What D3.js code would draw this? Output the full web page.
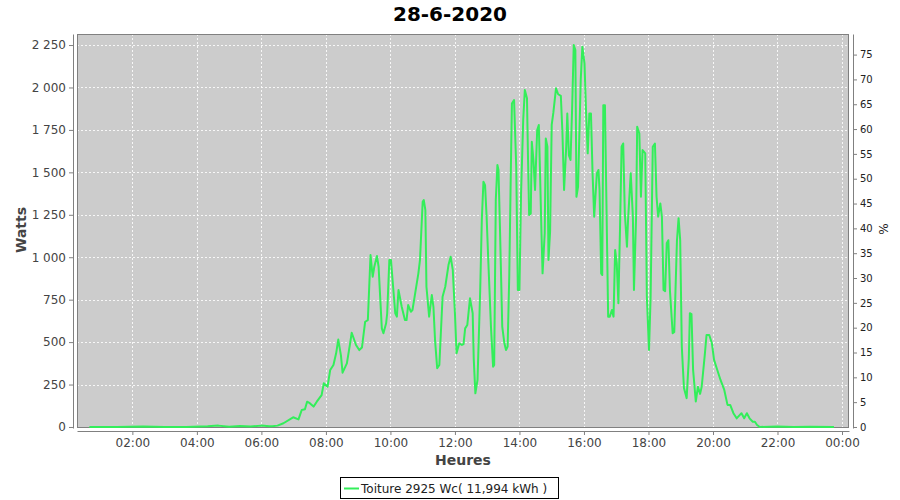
<!DOCTYPE html>
<html><head><meta charset="utf-8">
<script src="https://cdn.jsdelivr.net/npm/d3@7"></script>
<style>body{margin:0;background:#fff}svg{display:block}</style>
</head><body>
<svg id="c" width="900" height="500"></svg>
<script>
const chartTitle = "28-6-2020";
const seriesName = "Toiture 2925 Wc( 11,994 kWh )";
const yLabel = "Watts";
const xLabel = "Heures";
const y2Label = "%";
const peakPower = 2925;
const dayDate = [2020, 5, 28];
const xDomainTimes = ["00:17", "24:13"];
const wattDomain = [-6, 2315];
const wattTicks = [0, 250, 500, 750, 1000, 1250, 1500, 1750, 2000, 2250];
const pctTicks = [0, 5, 10, 15, 20, 25, 30, 35, 40, 45, 50, 55, 60, 65, 70, 75];
const hourTicks = ["02:00","04:00","06:00","08:00","10:00","12:00","14:00","16:00","18:00","20:00","22:00","24:00"];

const times = ["00:40","01:30","02:20","03:00","03:40","04:20","04:40","05:00","05:20","05:40","06:00","06:15","06:20","06:30",
"06:41","06:59","07:09","07:15","07:21","07:25","07:30","07:37","07:43","07:52","07:56","08:03","08:08","08:14","08:19","08:23",
"08:28","08:31","08:39","08:45","08:48","08:56","09:02","09:07","09:13","09:18","09:23","09:27","09:30","09:35","09:38","09:44",
"09:47","09:52","09:54","09:58","10:01","10:05","10:09","10:12","10:15","10:21","10:27","10:30","10:33","10:38","10:41","10:46",
"10:52","10:55","11:00","11:02","11:05","11:07","11:12","11:17","11:20","11:23","11:27","11:31","11:37","11:42","11:48","11:52",
"11:56","12:00","12:03","12:08","12:13","12:16","12:19","12:23","12:28","12:33","12:35","12:38","12:42","12:47","12:50","12:53",
"12:56","12:59","13:02","13:07","13:11","13:13","13:16","13:19","13:21","13:24","13:28","13:32","13:35","13:38","13:41","13:44",
"13:46","13:50","13:54","13:57","14:00","14:03","14:07","14:10","14:14","14:16","14:18","14:21","14:23","14:26","14:29","14:33",
"14:36","14:38","14:41","14:43","14:47","14:49","14:52","14:54","14:57","15:00","15:03","15:08","15:12","15:17","15:20","15:23",
"15:27","15:29","15:32","15:35","15:38","15:41","15:44","15:46","15:49","15:54","15:57","16:01","16:04","16:07","16:10","16:13",
"16:16","16:19","16:24","16:27","16:29","16:32","16:34","16:36","16:39","16:42","16:45","16:48","16:52","16:55","16:58","17:01",
"17:04","17:07","17:10","17:13","17:16","17:20","17:22","17:27","17:31","17:33","17:37","17:39","17:43","17:46","17:49","17:54",
"17:57","18:01","18:04","18:08","18:12","18:15","18:18","18:22","18:25","18:28","18:31","18:34","18:37","18:40","18:45","18:48",
"18:53","18:56","18:59","19:02","19:06","19:11","19:15","19:17","19:20","19:23","19:28","19:32","19:36","19:39","19:45","19:48",
"19:53","19:58","20:02","20:08","20:14","20:21","20:27","20:32","20:38","20:44","20:50","20:53","20:58","21:03","21:08","21:14",
"21:18","21:22","21:27","22:00","22:30","23:00","23:45"];

const watts = [0,0,3,0,0,4,8,2,6,3,8,5,5,8,
22,57,45,100,104,149,140,120,149,188,257,237,336,365,434,515,
420,320,375,493,555,483,453,468,620,630,1013,885,944,1007,944,581,
552,611,670,984,984,826,670,650,807,708,630,630,718,679,689,787,
905,984,1327,1337,1278,826,650,777,708,512,346,365,767,826,954,1003,
925,670,434,493,483,488,581,601,758,670,400,198,277,807,1219,1445,
1425,1233,984,591,355,365,1337,1543,1514,1141,591,493,453,473,885,1514,
1905,1926,1533,807,807,1376,1808,1985,1936,1573,1249,1258,1680,1573,1396,1749,
1779,1533,1141,905,1141,1700,1651,984,1150,1780,1850,1995,1960,1950,1730,1396,
1650,1847,1600,1573,1876,2250,2221,1356,1415,2044,2240,2142,1847,1612,1847,1847,
1494,1239,1494,1514,1396,905,895,1896,1896,1278,650,650,689,650,1043,964,
729,1160,1651,1670,1259,1062,1219,1494,1239,807,1239,1769,1729,1356,1631,1612,
767,453,767,1651,1670,1356,1239,1317,1239,807,800,1082,1100,800,552,560,
1100,1230,1100,473,230,170,400,670,665,336,150,237,195,237,434,542,
542,493,395,336,277,218,130,130,81,51,71,81,51,81,51,31,
31,12,0,3,0,2,0];

function toDate(s){const [h,m]=s.split(":").map(Number);return new Date(dayDate[0],dayDate[1],dayDate[2],h,m);}
const data = times.map((t,i)=>({t:toDate(t), w:watts[i]}));

const P = {left:77, right:849, top:34, bottom:428};
const svg = d3.select("#c");
const font = "'DejaVu Sans', sans-serif";

const x = d3.scaleTime().domain(xDomainTimes.map(toDate)).range([P.left, P.right]);
const y = d3.scaleLinear().domain(wattDomain).range([P.bottom, P.top]);
const y2 = d3.scaleLinear().domain(wattDomain.map(v=>v/peakPower*100)).range([P.bottom, P.top]);

const loc = d3.formatLocale({decimal:",", thousands:" ", grouping:[3], currency:["","€"]});
const fmtW = loc.format(",d");

// title
svg.append("text").attr("x",450).attr("y",21).attr("text-anchor","middle")
  .style("font-family",font).style("font-weight","bold").style("font-size","20px").attr("fill","#000").text(chartTitle);

// plot background
svg.append("rect").attr("x",P.left).attr("y",P.top).attr("width",P.right-P.left).attr("height",P.bottom-P.top)
  .attr("fill","#cccccc");

// grid
const g = svg.append("g");
wattTicks.forEach(v=>{
  g.append("line").attr("x1",P.left).attr("x2",P.right).attr("y1",Math.round(y(v))+0.5).attr("y2",Math.round(y(v))+0.5)
   .attr("stroke","#ffffff").attr("stroke-dasharray","2,2").attr("stroke-width",1).attr("opacity",0.85);
});
hourTicks.map(toDate).forEach(d=>{
  g.append("line").attr("y1",P.top).attr("y2",P.bottom).attr("x1",Math.round(x(d))+0.5).attr("x2",Math.round(x(d))+0.5)
   .attr("stroke","#ffffff").attr("stroke-dasharray","2,2").attr("stroke-width",1).attr("opacity",0.85);
});

// frame
svg.append("rect").attr("x",P.left+0.5).attr("y",P.top+0.5).attr("width",P.right-P.left-1).attr("height",P.bottom-P.top-1)
  .attr("fill","none").attr("stroke","#808080").attr("stroke-width",1);

// line
svg.append("clipPath").attr("id","clip").append("rect").attr("x",P.left).attr("y",P.top).attr("width",P.right-P.left).attr("height",P.bottom-P.top);
const line = d3.line().x(d=>x(d.t)).y(d=>y(d.w));
svg.append("path").datum(data).attr("clip-path","url(#clip)").attr("d",line)
  .attr("fill","none").attr("stroke","#33ee5a").attr("stroke-width",2).attr("stroke-linejoin","round");

// axes
function styleAxis(sel, color, size){
  sel.select(".domain").attr("stroke","#808080");
  sel.selectAll(".tick line").attr("stroke","#808080");
  sel.selectAll(".tick text").attr("fill",color).style("font-family",font).style("font-size",size);
}
const ax = svg.append("g").attr("transform",`translate(0,${P.bottom+3})`)
  .call(d3.axisBottom(x).tickValues(hourTicks.map(toDate)).tickFormat(d3.timeFormat("%H:%M")).tickSize(4).tickSizeOuter(0).tickPadding(3));
styleAxis(ax,"#444","12px");
const ay = svg.append("g").attr("transform",`translate(${P.left-4},0)`)
  .call(d3.axisLeft(y).tickValues(wattTicks).tickFormat(fmtW).tickSize(4).tickSizeOuter(0).tickPadding(3));
styleAxis(ay,"#444","12px");
const ay2 = svg.append("g").attr("transform",`translate(${P.right+4},0)`)
  .call(d3.axisRight(y2).tickValues(pctTicks).tickFormat(d3.format("d")).tickSize(4).tickSizeOuter(0).tickPadding(3));
styleAxis(ay2,"#222","10px");

// axis labels
svg.append("text").attr("x",(P.left+P.right)/2).attr("y",465).attr("text-anchor","middle")
  .style("font-family",font).style("font-weight","bold").style("font-size","14px").attr("fill","#444").text(xLabel);
svg.append("text").attr("transform","translate(26,230) rotate(-90)").attr("text-anchor","middle")
  .style("font-family",font).style("font-weight","bold").style("font-size","14px").attr("fill","#444").text(yLabel);
svg.append("text").attr("transform","translate(888,229) rotate(-90)").attr("text-anchor","middle")
  .style("font-family",font).style("font-size","12px").attr("fill","#222").text(y2Label);

// legend
const lg = svg.append("g");
lg.append("rect").attr("x",340.5).attr("y",477.5).attr("width",218).attr("height",21).attr("fill","#fff").attr("stroke","#000");
lg.append("line").attr("x1",344).attr("x2",359).attr("y1",488.5).attr("y2",488.5).attr("stroke","#33ee5a").attr("stroke-width",2);
lg.append("text").attr("x",361).attr("y",492.5).style("font-family",font).style("font-size","12px").attr("fill","#222").text(seriesName);
</script>
</body></html>
